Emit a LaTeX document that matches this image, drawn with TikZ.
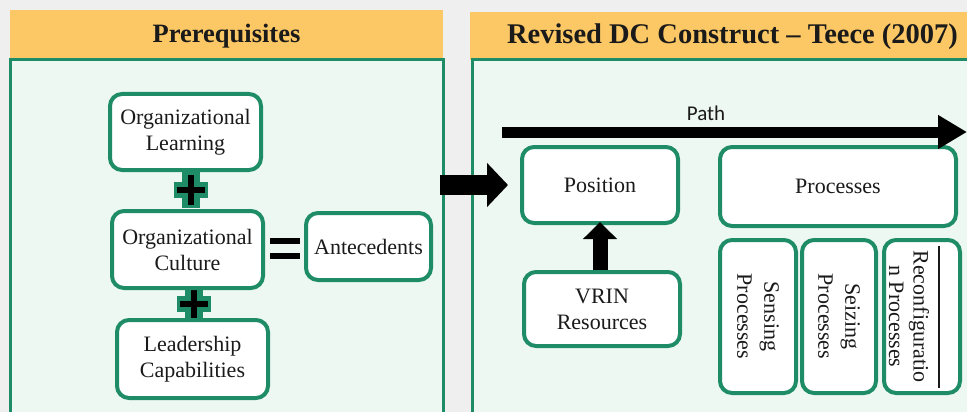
\documentclass[tikz,border=0pt]{standalone}
\usepackage{fontspec}
\setmainfont{Liberation Serif}
\newfontfamily\pathfont{Carlito}
\usetikzlibrary{arrows.meta,calc}
\definecolor{hdr}{HTML}{FCC865}
\definecolor{tealb}{HTML}{1E8C66}
\definecolor{mint}{HTML}{EDF8F2}
\definecolor{bgray}{HTML}{EFEFEF}
\definecolor{ink}{HTML}{1A1A1A}
\begin{document}
\begin{tikzpicture}[x=1pt,y=-1pt,
  card/.style={draw=tealb, line width=4pt, rounded corners=12pt, fill=white,
    align=center, text=ink, inner sep=0pt, font=\fontsize{22}{26}\selectfont},
  vcard/.style={card, rotate=-90, font=\fontsize{22}{27}\selectfont},
  header/.style={fill=hdr, text=ink, font=\fontsize{26.5}{30}\selectfont\bfseries},
  panel/.style={fill=mint, draw=tealb, line width=3pt},
  blockarrow/.style={draw=black, line cap=butt},
  plusbg/.style={fill=tealb},
  bar/.style={fill=black}]
  \useasboundingbox (0,0) rectangle (967,412);
  \clip (0,0) rectangle (967,412);
  \fill[bgray] (0,0) rectangle (967,412);

  % panels and their headers
  \fill[hdr] (10,10) rectangle (443,60);
  \draw[panel] (10,60) rectangle (443,430);
  \node[header] (hleft) at (226.5,36) {Prerequisites};
  \fill[hdr] (470,12) rectangle (1000,60);
  \draw[panel] (472,60) rectangle (1000,430);
  \node[header, font=\fontsize{28.5}{32}\selectfont\bfseries] (hright) at (732.5,37) {Revised DC Construct -- Teece (2007)};

  % plus signs between the stacked prerequisites
  \foreach \c/\px/\py in {plusA/191/190, plusB/194/304}{
    \coordinate (\c) at (\px,\py);
    \fill[plusbg] ($(\c)+(-17,-8)$) rectangle ($(\c)+(17,8)$);
    \fill[plusbg] ($(\c)+(-9,-18)$) rectangle ($(\c)+(9,18)$);
    \fill[bar] ($(\c)+(-14,-3)$) rectangle ($(\c)+(14,3)$);
    \fill[bar] ($(\c)+(-3,-15)$) rectangle ($(\c)+(3,15)$);
  }

  % left column
  \node[card, minimum width=151pt, minimum height=76pt] (learn) at (185.5,132) {Organizational\\Learning};
  \node[card, minimum width=151pt, minimum height=77pt] (culture) at (187.5,249.5) {Organizational\\Culture};
  \node[card, minimum width=151pt, minimum height=78pt] (leader) at (192.5,359) {Leadership\\Capabilities};
  \node[card, minimum width=125pt, minimum height=67pt] (antec) at (368.5,246.5) {Antecedents};

  % equals sign
  \coordinate (eq) at ($(culture.east)!0.5!(antec.west)$);
  \fill[bar] ($(eq)+(-15,-10.5)$) rectangle ($(eq)+(15,-4.5)$);
  \fill[bar] ($(eq)+(-15,4.5)$) rectangle ($(eq)+(15,10.5)$);

  % right panel
  \node[card, minimum width=156pt, minimum height=76pt] (pos) at (600,185) {Position};
  \node[card, minimum width=156pt, minimum height=74pt] (vrin) at (602,309) {VRIN\\Resources};
  \node[card, minimum width=236pt, minimum height=79pt] (proc) at (838,186.5) {Processes};
  \node[vcard, minimum width=153pt, minimum height=76pt] (sense) at (758,316.5) {Sensing\\Processes};
  \node[vcard, minimum width=153pt, minimum height=74pt] (seize) at (839,316.5) {Seizing\\Processes};
  \node[vcard, minimum width=153pt, minimum height=76pt, font=\fontsize{22}{24.5}\selectfont] (recon) at (922,316.5)
    {\rule{0pt}{17pt}\rule{142pt}{1.5pt}\\Reconfiguratio\\n Processes};

  % path arrow
  \coordinate (pathS) at (502,132);
  \coordinate (pathE) at (967,132);
  \draw[blockarrow, line width=11pt, -{Triangle[length=29pt,width=32pt]}] (pathS) -- (pathE);
  \node[font=\pathfont\fontsize{21}{24}\selectfont, text=ink] (pathlbl) at (706,113) {Path};

  % arrow from prerequisites into the construct
  \coordinate (bigS) at (440,185);
  \draw[blockarrow, line width=20pt, -{Triangle[length=21pt,width=43pt]}, shorten >=12pt] (bigS) -- (pos.west);

  % resources feed position
  \draw[blockarrow, line width=15pt, -{Triangle[length=17pt,width=33pt]}, shorten >=-3pt]
    (vrin.north -| pos.south) -- (pos.south);
\end{tikzpicture}
\end{document}
